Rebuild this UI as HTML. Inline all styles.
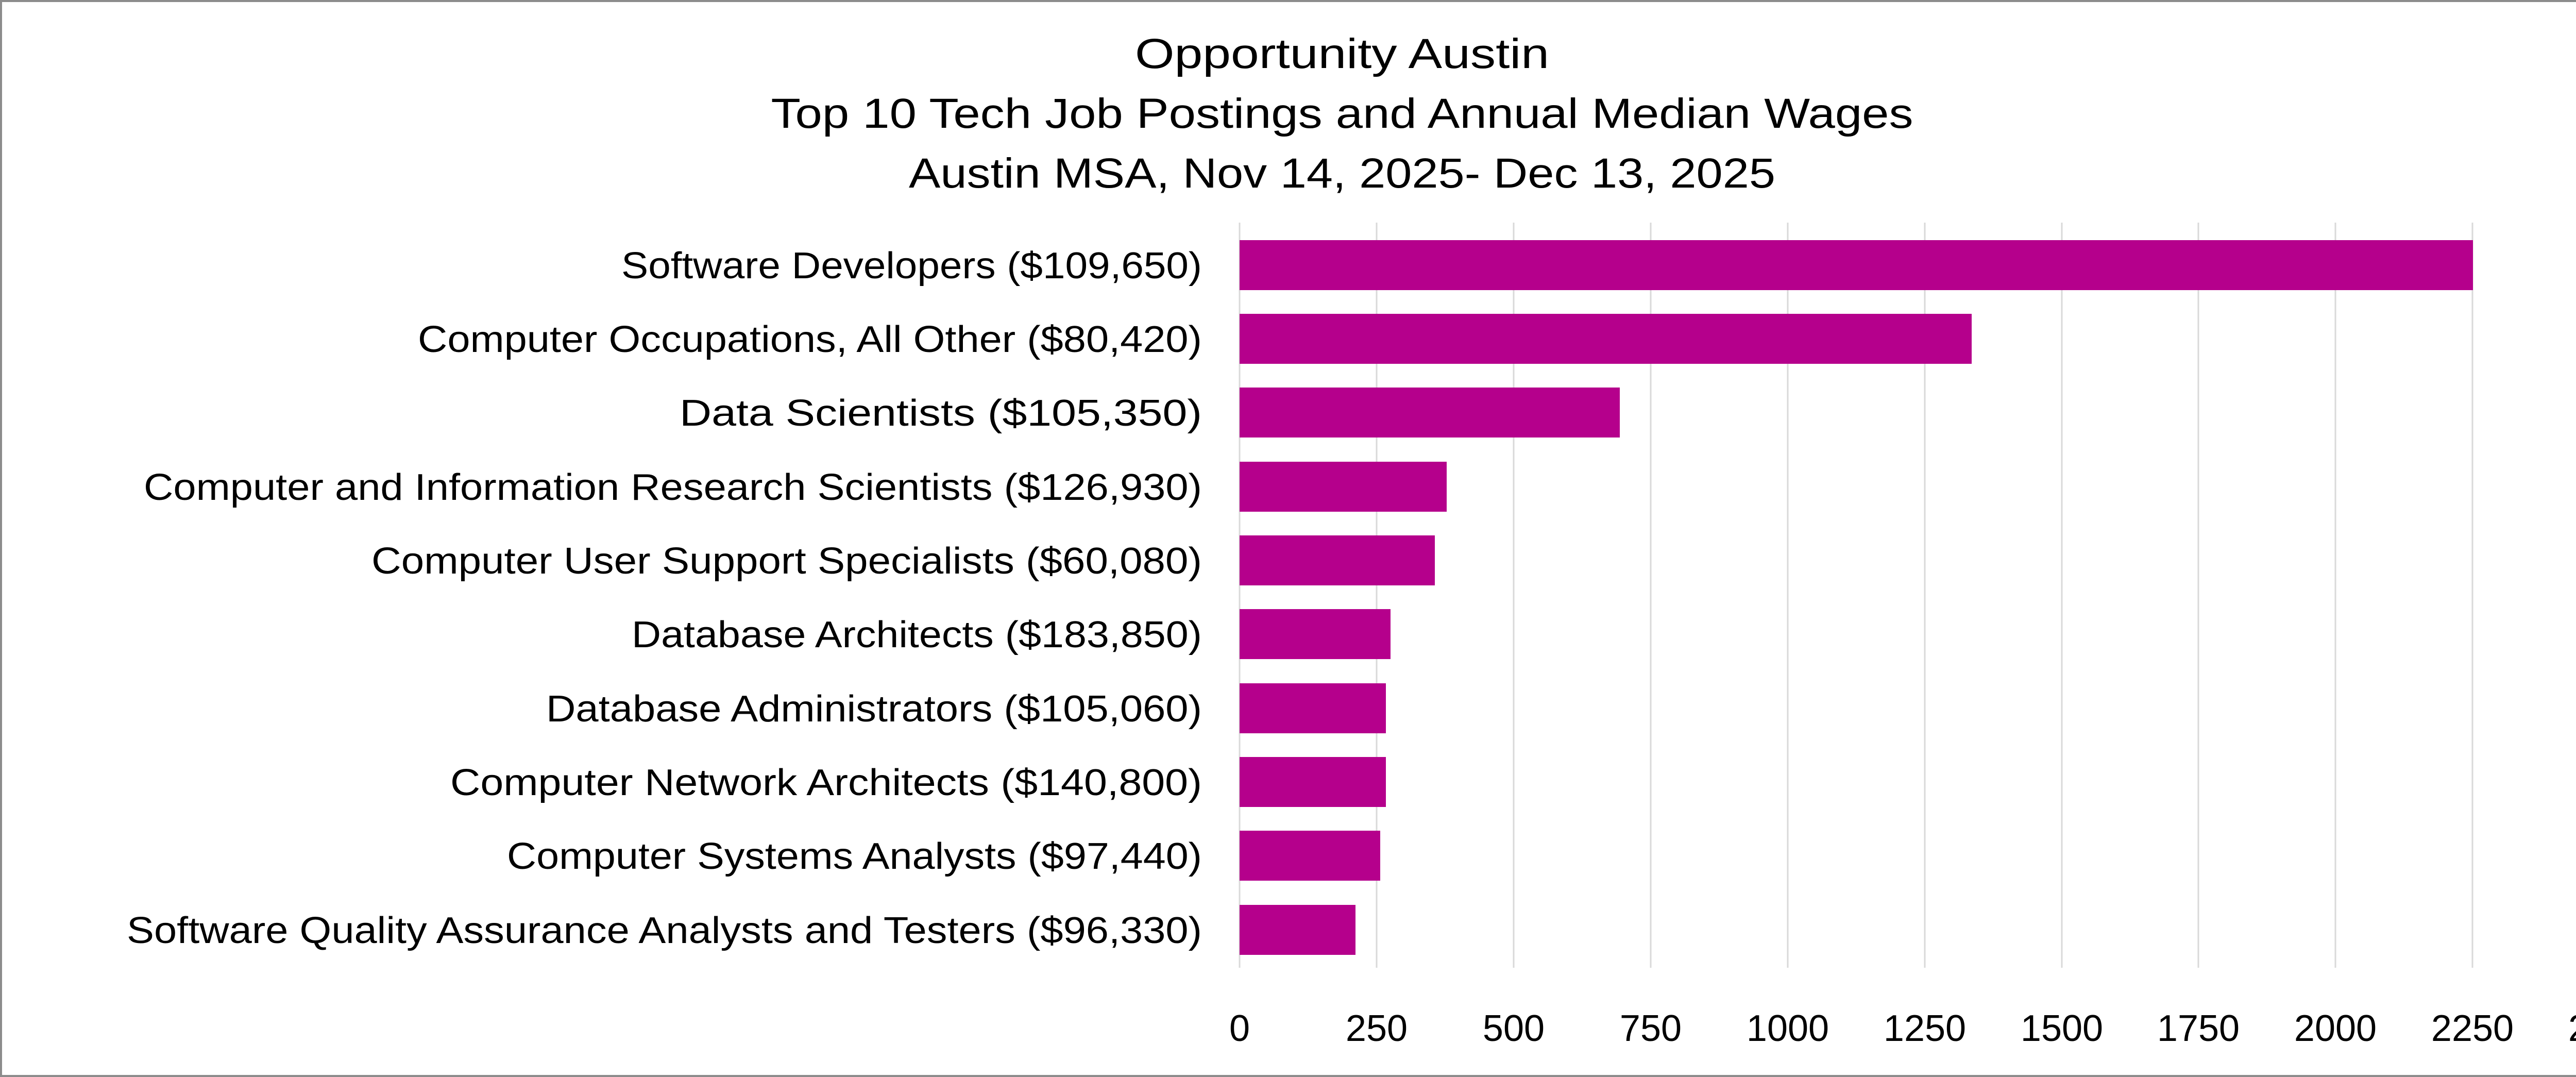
<!DOCTYPE html>
<html><head><meta charset="utf-8"><style>html,body{margin:0;padding:0;background:#fff;width:5211px;height:2090px;overflow:hidden}svg{display:block}</style></head><body>
<svg width="5211" height="2090" viewBox="0 0 5211 2090" xmlns="http://www.w3.org/2000/svg" font-family="Liberation Sans, sans-serif">
<rect x="2" y="2" width="5207" height="2086" fill="#fff" stroke="#8c8c8c" stroke-width="4"/>
<g fill="#000" text-anchor="middle" font-size="82">
<text x="2605" y="132" textLength="804" lengthAdjust="spacingAndGlyphs">Opportunity Austin</text>
<text x="2605" y="248" textLength="2217" lengthAdjust="spacingAndGlyphs">Top 10 Tech Job Postings and Annual Median Wages</text>
<text x="2605" y="364" textLength="1682" lengthAdjust="spacingAndGlyphs">Austin MSA, Nov  14, 2025- Dec 13, 2025</text>
</g>
<g stroke="#d9d9d9" stroke-width="3">
<line x1="2672" y1="432" x2="2672" y2="1878"/><line x1="2938" y1="432" x2="2938" y2="1878"/>
<line x1="3204" y1="432" x2="3204" y2="1878"/><line x1="3470" y1="432" x2="3470" y2="1878"/>
<line x1="3736" y1="432" x2="3736" y2="1878"/><line x1="4002" y1="432" x2="4002" y2="1878"/>
<line x1="4267" y1="432" x2="4267" y2="1878"/><line x1="4533" y1="432" x2="4533" y2="1878"/>
<line x1="4799" y1="432" x2="4799" y2="1878"/><line x1="5065" y1="432" x2="5065" y2="1878"/>
<line x1="2406" y1="432" x2="2406" y2="1878"/>
</g>
<g fill="#b5008c">
<rect x="2406" y="466" width="2394" height="97"/>
<rect x="2406" y="609" width="1421" height="97"/>
<rect x="2406" y="752" width="738" height="97"/>
<rect x="2406" y="896" width="402" height="97"/>
<rect x="2406" y="1039" width="379" height="97"/>
<rect x="2406" y="1182" width="293" height="97"/>
<rect x="2406" y="1326" width="284" height="97"/>
<rect x="2406" y="1469" width="284" height="97"/>
<rect x="2406" y="1612" width="273" height="97"/>
<rect x="2406" y="1756" width="225" height="97"/>
</g>
<g fill="#000" font-size="72" text-anchor="end">
<text x="2333" y="540" textLength="1127" lengthAdjust="spacingAndGlyphs">Software Developers ($109,650)</text>
<text x="2333" y="683" textLength="1522" lengthAdjust="spacingAndGlyphs">Computer Occupations, All Other ($80,420)</text>
<text x="2333" y="826" textLength="1014" lengthAdjust="spacingAndGlyphs">Data Scientists ($105,350)</text>
<text x="2333" y="970" textLength="2054" lengthAdjust="spacingAndGlyphs">Computer and Information Research Scientists ($126,930)</text>
<text x="2333" y="1113" textLength="1612" lengthAdjust="spacingAndGlyphs">Computer User Support Specialists ($60,080)</text>
<text x="2333" y="1256" textLength="1107" lengthAdjust="spacingAndGlyphs">Database Architects ($183,850)</text>
<text x="2333" y="1400" textLength="1273" lengthAdjust="spacingAndGlyphs">Database Administrators ($105,060)</text>
<text x="2333" y="1543" textLength="1459" lengthAdjust="spacingAndGlyphs">Computer Network Architects ($140,800)</text>
<text x="2333" y="1686" textLength="1349" lengthAdjust="spacingAndGlyphs">Computer Systems Analysts ($97,440)</text>
<text x="2333" y="1830" textLength="2087" lengthAdjust="spacingAndGlyphs">Software Quality Assurance Analysts and Testers ($96,330)</text>
</g>
<g fill="#000" font-size="72" text-anchor="middle">
<text x="2406" y="2020">0</text><text x="2672" y="2020">250</text><text x="2938" y="2020">500</text>
<text x="3204" y="2020">750</text><text x="3470" y="2020">1000</text><text x="3736" y="2020">1250</text>
<text x="4002" y="2020">1500</text><text x="4267" y="2020">1750</text><text x="4533" y="2020">2000</text>
<text x="4799" y="2020">2250</text><text x="5065" y="2020">2500</text>
</g>
</svg>
</body></html>
